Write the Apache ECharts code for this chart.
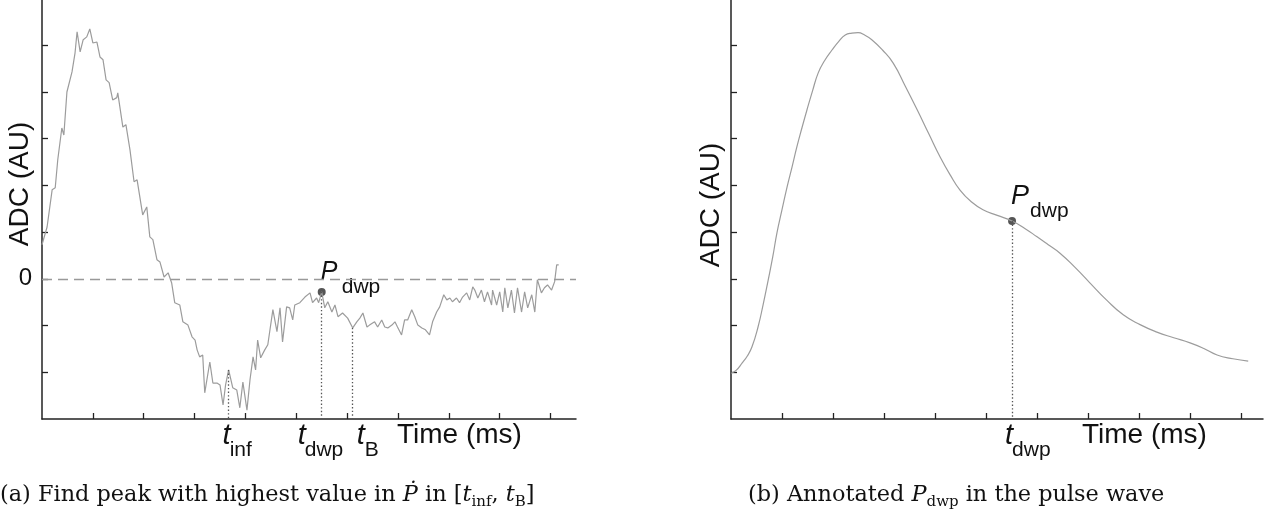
<!DOCTYPE html>
<html><head><meta charset="utf-8">
<script src="https://cdn.jsdelivr.net/npm/echarts@6/dist/echarts.min.js"></script>
<style>html,body{margin:0;padding:0;background:#fff}#c{width:1273px;height:524px}</style>
</head><body><div id="c"></div>
<script>
// ---- data (time in tick units, ADC in tick units) ----
const leftTime = [0.00,0.10,0.20,0.26,0.31,0.39,0.43,0.49,0.59,0.65,0.69,0.75,0.81,0.88,0.94,1.00,1.08,1.14,1.20,1.26,1.32,1.39,1.47,1.49,1.59,1.65,1.73,1.81,1.87,1.98,2.06,2.12,2.18,2.26,2.32,2.40,2.48,2.55,2.61,2.71,2.77,2.87,2.95,3.01,3.05,3.10,3.16,3.20,3.30,3.36,3.44,3.50,3.56,3.61,3.67,3.75,3.83,3.89,3.95,4.03,4.09,4.15,4.20,4.24,4.30,4.38,4.44,4.54,4.62,4.68,4.73,4.81,4.87,4.93,4.97,5.07,5.17,5.27,5.32,5.40,5.44,5.50,5.56,5.62,5.70,5.76,5.82,5.91,6.01,6.11,6.19,6.25,6.31,6.39,6.44,6.54,6.60,6.68,6.74,6.80,6.88,6.94,6.99,7.07,7.13,7.19,7.27,7.33,7.39,7.47,7.54,7.62,7.68,7.76,7.82,7.90,7.96,8.02,8.07,8.15,8.21,8.27,8.35,8.41,8.47,8.51,8.57,8.64,8.70,8.76,8.84,8.86,8.94,9.00,9.06,9.10,9.16,9.23,9.29,9.35,9.43,9.49,9.55,9.63,9.69,9.74,9.82,9.88,9.94,10.02,10.08,10.12,10.16];
const leftADC = [0.73,1.11,1.91,1.95,2.55,3.23,3.08,4.00,4.43,4.84,5.29,4.86,5.12,5.18,5.35,5.05,5.07,4.75,4.69,4.26,4.20,3.83,3.88,3.98,3.25,3.30,2.76,2.08,2.12,1.37,1.54,0.90,0.84,0.41,0.36,0.04,0.13,-0.09,-0.51,-0.56,-0.92,-0.99,-1.24,-1.31,-1.52,-1.67,-1.63,-2.44,-1.78,-2.23,-2.23,-2.27,-2.70,-2.27,-1.95,-2.33,-2.38,-2.76,-2.21,-2.81,-2.16,-1.67,-1.95,-1.31,-1.69,-1.52,-1.41,-0.66,-1.13,-0.62,-1.35,-0.60,-0.62,-0.88,-0.56,-0.51,-0.39,-0.30,-0.51,-0.41,-0.51,-0.28,-0.62,-0.49,-0.71,-0.56,-0.81,-0.73,-0.84,-1.05,-0.92,-0.84,-0.73,-1.03,-0.99,-0.92,-1.03,-0.88,-1.03,-1.05,-0.99,-0.92,-1.03,-1.20,-0.88,-0.88,-0.66,-0.81,-0.99,-1.05,-1.09,-1.20,-0.92,-0.71,-0.60,-0.34,-0.45,-0.41,-0.49,-0.41,-0.51,-0.39,-0.30,-0.45,-0.17,-0.24,-0.41,-0.24,-0.49,-0.28,-0.56,-0.24,-0.56,-0.28,-0.71,-0.19,-0.62,-0.24,-0.73,-0.19,-0.71,-0.28,-0.62,-0.34,-0.71,-0.02,-0.30,-0.19,-0.13,-0.24,-0.06,0.30,0.30];
const rightTime = [0.00,0.10,0.22,0.32,0.41,0.53,0.63,0.73,0.82,0.90,1.00,1.10,1.20,1.29,1.39,1.49,1.60,1.71,1.84,1.98,2.11,2.24,2.37,2.49,2.62,2.76,2.97,3.18,3.42,3.65,3.88,4.10,4.30,4.49,4.70,4.94,5.22,5.51,5.76,6.00,6.22,6.45,6.75,7.04,7.36,7.69,8.02,8.35,8.68,9.00,9.27,9.53,9.84,10.14];
const rightADC = [0.98,1.04,1.20,1.35,1.54,1.97,2.45,2.98,3.48,3.98,4.48,4.97,5.41,5.82,6.23,6.62,7.03,7.41,7.68,7.90,8.08,8.22,8.26,8.27,8.22,8.12,7.90,7.62,7.12,6.62,6.10,5.61,5.22,4.90,4.66,4.48,4.36,4.24,4.08,3.90,3.73,3.55,3.24,2.91,2.55,2.23,2.02,1.86,1.74,1.63,1.51,1.37,1.29,1.24];
// annotated instants
const leftMarkers = [
  {main: 't', sub: 'inf', t: 3.67, v: -1.95},
  {main: 't', sub: 'dwp', t: 5.50, v: -0.28},
  {main: 't', sub: 'B',   t: 6.11, v: -1.05}
];
const rightMarkers = [{main: 't', sub: 'dwp', t: 5.51, v: 4.24}];
const leftPeak = {main: 'P', sub: 'dwp', t: 5.50, v: -0.28};
const rightPeak = {main: 'P', sub: 'dwp', t: 5.51, v: 4.24};
const yTickLabels = [0];
const xTicks = [1,2,3,4,5,6,7,8,9,10];
const leftYTicks = [-2,-1,0,1,2,3,4,5];
const rightYTicks = [1,2,3,4,5,6,7,8];
const xName = 'Time (ms)';
const yName = 'ADC (AU)';
const captionA = ['(a) Find peak with highest value in ', 'Ṗ', ' in [', 't', 'inf', ', ', 't', 'B', ']'];
const captionB = ['(b) Annotated ', 'P', 'dwp', ' in the pulse wave'];

// ---- chart ----
const LMIN = -3, LMAX = 5.97, RMIN = 0, RMAX = 8.97;
const SANS = 'Liberation Sans, Arial, sans-serif';
const SERIF = 'DejaVu Serif, serif';
const AX = '#222';
const chart = echarts.init(document.getElementById('c'), null, {renderer: 'canvas'});
const zip = (a, b) => a.map((x, i) => [x, b[i]]);

function xAx(gi, max) {
  return {gridIndex: gi, type: 'value', min: 0, max: max,
    axisLine: {onZero: false, lineStyle: {color: AX, width: 1.5}},
    axisTick: {inside: true, length: 6, customValues: xTicks, lineStyle: {color: AX, width: 1.3}},
    axisLabel: {show: false}, splitLine: {show: false}};
}
function yAx(gi, min, max, ticks, labels) {
  return {gridIndex: gi, type: 'value', min: min, max: max,
    axisLine: {show: true, onZero: false, lineStyle: {color: AX, width: 1.5}},
    axisTick: {show: true, inside: true, length: 6, customValues: ticks, lineStyle: {color: AX, width: 1.3}},
    axisLabel: labels ? {show: true, customValues: labels, formatter: v => String(v), fontSize: 24, fontFamily: SANS, color: '#111', margin: 10} : {show: false},
    splitLine: {show: false}};
}
function drops(gi, markers, ymin) {
  return {type: 'line', xAxisIndex: gi, yAxisIndex: gi, data: [], silent: true,
    markLine: {silent: true, symbol: 'none', label: {show: false}, animation: false,
      lineStyle: {type: [1.4, 2.2], color: '#555', width: 1.3},
      data: markers.map(m => [{coord: [m.t, m.v]}, {coord: [m.t, ymin]}])}};
}

chart.setOption({
  animation: false,
  grid: [{left: 42, top: 0, width: 534, height: 419}, {left: 731, top: 0, width: 532, height: 419}],
  xAxis: [xAx(0, 10.5), xAx(1, 10.43)],
  yAxis: [yAx(0, LMIN, LMAX, leftYTicks, yTickLabels), yAx(1, RMIN, RMAX, rightYTicks, null)],
  series: [
    {type: 'line', xAxisIndex: 0, yAxisIndex: 0, data: zip(leftTime, leftADC), showSymbol: false, silent: true,
      lineStyle: {color: '#9c9c9c', width: 1.2},
      markLine: {silent: true, symbol: 'none', label: {show: false},
        lineStyle: {type: [10, 6], color: '#999', width: 1.3}, data: [{yAxis: 0}]}},
    drops(0, leftMarkers, LMIN),
    {type: 'scatter', xAxisIndex: 0, yAxisIndex: 0, data: [[leftPeak.t, leftPeak.v]], symbolSize: 8, itemStyle: {color: '#2a2a2a'}, silent: true},
    {type: 'line', xAxisIndex: 1, yAxisIndex: 1, data: zip(rightTime, rightADC), showSymbol: false, smooth: 0.5, silent: true,
      lineStyle: {color: '#9c9c9c', width: 1.2}},
    drops(1, rightMarkers, RMIN),
    {type: 'scatter', xAxisIndex: 1, yAxisIndex: 1, data: [[rightPeak.t, rightPeak.v]], symbolSize: 8, itemStyle: {color: '#2a2a2a'}, silent: true}
  ]
});

// ---- annotation text placed through the axes ----
const px = (gi, t, v) => chart.convertToPixel({gridIndex: gi}, [t, v]);
const txt = (x, y, s, o) => Object.assign({type: 'text', x: x, y: y, silent: true,
  style: Object.assign({text: s, fontFamily: SANS, fill: '#111', textAlign: 'left', textVerticalAlign: 'middle'}, o)});
const g = [];
function tLabel(gi, m, dxMain, dxSub) {
  const p = px(gi, m.t, gi === 0 ? LMIN : RMIN);
  g.push(txt(p[0] + dxMain, 436, m.main, {fontSize: 29, fontStyle: 'italic', textAlign: 'right'}));
  g.push(txt(p[0] + dxSub, 450, m.sub, {fontSize: 21}));
}
tLabel(0, leftMarkers[0], 2, 1);
tLabel(0, leftMarkers[1], -16, -17);
tLabel(0, leftMarkers[2], 12, 12);
tLabel(1, rightMarkers[0], 1, 0);
function pLabel(gi, m, size, dyMain, dxSub, dySub) {
  const p = px(gi, m.t, m.v);
  g.push(txt(p[0] - 1, p[1] + dyMain, m.main, {fontSize: size, fontStyle: 'italic'}));
  g.push(txt(p[0] + dxSub, p[1] + dySub, m.sub, {fontSize: 21}));
}
pLabel(0, leftPeak, 25, -20, 20, -5);
pLabel(1, rightPeak, 27, -24, 18, -10);
// axis names
g.push(txt(397, 435, xName, {fontSize: 28}));
g.push(txt(1082, 435, xName, {fontSize: 28}));
g.push({type: 'text', x: 20, y: 184, rotation: Math.PI / 2, silent: true,
  style: {text: yName, fontFamily: SANS, fontSize: 28, fill: '#111', textAlign: 'center', textVerticalAlign: 'middle'}});
g.push({type: 'text', x: 711, y: 205, rotation: Math.PI / 2, silent: true,
  style: {text: yName, fontFamily: SANS, fontSize: 28, fill: '#111', textAlign: 'center', textVerticalAlign: 'middle'}});
// captions
const rich = {
  n: {fontFamily: SERIF, fontSize: 22.4, lineHeight: 30, fill: '#111'},
  i: {fontFamily: SERIF, fontSize: 22.4, lineHeight: 30, fontStyle: 'italic', fill: '#111'},
  s: {fontFamily: SERIF, fontSize: 15, lineHeight: 13, verticalAlign: 'bottom', fill: '#111'}
};
const capA = '{n|' + captionA[0] + '}{i|' + captionA[1] + '}{n|' + captionA[2] + '}{i|' + captionA[3] + '}{s|' + captionA[4] + '}{n|' + captionA[5] + '}{i|' + captionA[6] + '}{s|' + captionA[7] + '}{n|' + captionA[8] + '}';
const capB = '{n|' + captionB[0] + '}{i|' + captionB[1] + '}{s|' + captionB[2] + '}{n|' + captionB[3] + '}';
g.push({type: 'text', x: 0, y: 495, silent: true, style: {text: capA, rich: rich, textAlign: 'left', textVerticalAlign: 'middle'}});
g.push({type: 'text', x: 748, y: 495, silent: true, style: {text: capB, rich: rich, textAlign: 'left', textVerticalAlign: 'middle'}});
chart.setOption({graphic: g});
</script>
</body></html>
